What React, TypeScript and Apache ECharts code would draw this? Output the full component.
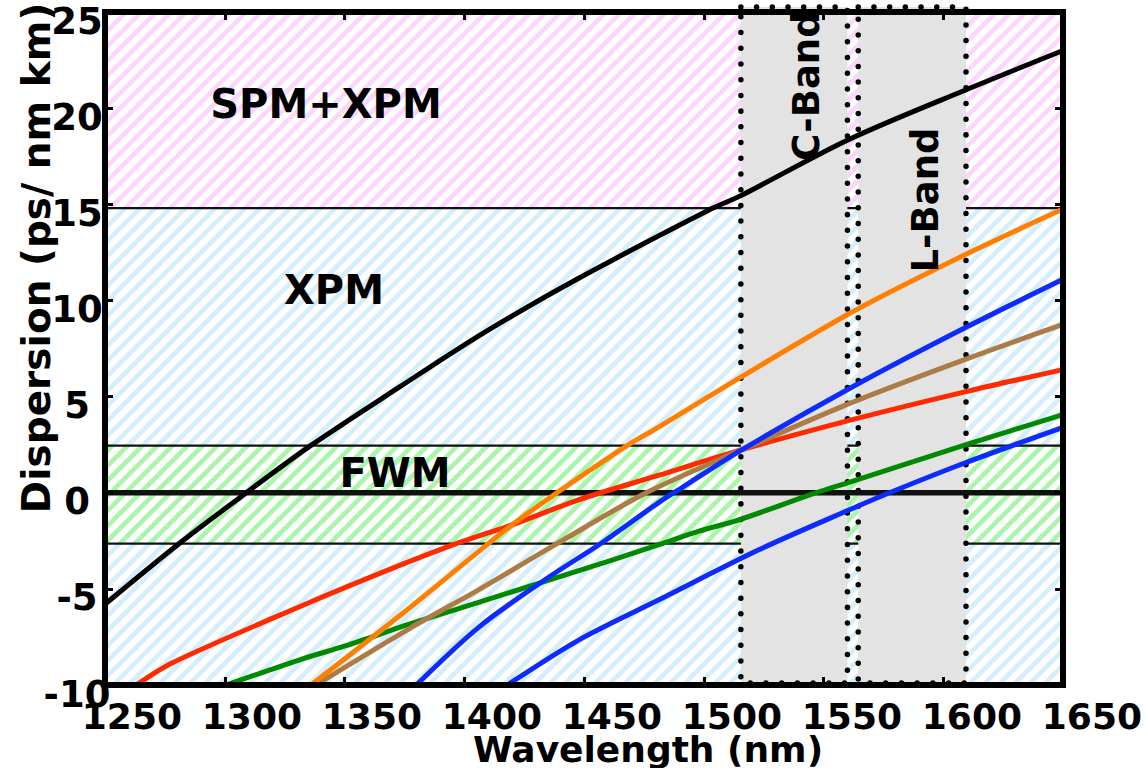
import React, { useEffect, useRef } from "react";
import * as echarts from "echarts";

// ---------- data ----------
const xTicks = [1250, 1300, 1350, 1400, 1450, 1500, 1550, 1600, 1650];
const yTicks = [-10, -5, 0, 5, 10, 15, 20, 25];

// regime boundaries (ps/nm km)
const spmLow = 14.8;
const fwmHigh = 2.45;
const fwmLow = -2.65;

// telecom bands (nm)
const cBand = [1515.5, 1560];
const lBand = [1564.5, 1609.5];

const blackCurve = [
  [1250, -5.8], [1281, -2.64], [1309, 0], [1336, 2.46], [1373, 5.5], [1406.6, 8.2],
  [1447, 11.1], [1503, 14.75], [1515.5, 15.45], [1560.6, 18.37], [1609.8, 20.97], [1650, 23.0],
];
const redCurve = [
  [1263, -10], [1278, -8.85], [1331, -5.94], [1368.6, -4.0], [1397.8, -2.6], [1420, -1.67],
  [1448, -0.36], [1481, 0.9], [1516, 2.24], [1562, 3.8], [1609.5, 5.26], [1650, 6.4],
];
const orangeCurve = [
  [1336, -10], [1375, -6.2], [1406.6, -3.0], [1420, -1.67], [1438.7, 0], [1468, 2.45],
  [1481.7, 3.45], [1516, 6.05], [1562, 9.4], [1609.5, 12.4], [1650, 14.75],
];
const brownCurve = [
  [1338, -10], [1378, -7], [1406, -5.05], [1438.7, -2.65], [1476, 0], [1516, 2.24],
  [1562, 4.7], [1609.5, 6.95], [1650, 8.75],
];
const greenCurve = [
  [1300.5, -10], [1331, -8.7], [1350.6, -7.95], [1378, -6.8], [1406, -5.7], [1434, -4.6],
  [1461.7, -3.5], [1481.3, -2.7], [1498, -2.0], [1515, -1.4], [1547, 0], [1561, 0.55],
  [1609.5, 2.5], [1650, 4.06],
];
const blueCurve1 = [
  [1380, -10], [1406, -7], [1434, -4.5], [1457.5, -2.6], [1481.3, -0.5], [1491, 0.27],
  [1516, 2.24], [1562, 5.5], [1609.5, 8.6], [1650, 11.1],
];
const blueCurve2 = [
  [1418, -10], [1448, -7.65], [1481.3, -5.57], [1523, -2.97], [1560.6, -0.9],
  [1578.6, 0.05], [1609.5, 1.57], [1650, 3.4],
];

// ---------- styling ----------
const FONT = "DejaVu Sans";
const X_MIN = 1250, X_MAX = 1650, Y_MIN = -10, Y_MAX = 25;
const PINK = "#fcd6fc", BLUE = "#d4eefc", GREEN = "#a9f5a9";
// label-only axis (the source's tick labels sit a little right of their ticks)
const LABEL_AXIS_MIN = 1238.8;
const LABEL_AXIS_MAX = 1669.5;

type P = [number, number];
function clipHalf(poly: P[], f: (p: P) => number): P[] {
  const out: P[] = [];
  for (let i = 0; i < poly.length; i++) {
    const a = poly[i], b = poly[(i + 1) % poly.length];
    const fa = f(a), fb = f(b);
    if (fa >= 0) out.push(a);
    if ((fa >= 0) !== (fb >= 0)) {
      const t = fa / (fa - fb);
      out.push([a[0] + t * (b[0] - a[0]), a[1] + t * (b[1] - a[1])]);
    }
  }
  return out;
}

export default function App() {
  const ref = useRef<HTMLDivElement>(null);
  useEffect(() => {
    if (!ref.current) return;
    const chart = echarts.init(ref.current, undefined, { renderer: "svg" });

    const bandData = [
      [X_MIN, X_MAX, spmLow, Y_MAX, 0],
      [X_MIN, X_MAX, fwmHigh, spmLow, 1],
      [X_MIN, X_MAX, fwmLow, fwmHigh, 2],
      [X_MIN, X_MAX, Y_MIN, fwmLow, 1],
    ];
    const bandColors = [PINK, BLUE, GREEN];
    const PERIOD = 15;
    const W = 6.6;

    const hatchSeries: any = {
      type: "custom",
      z: 1,
      silent: true,
      clip: true,
      data: bandData,
      encode: { x: [0, 1], y: [2, 3] },
      renderItem: (params: any, api: any) => {
        const tl = api.coord([api.value(0), api.value(3)]);
        const br = api.coord([api.value(1), api.value(2)]);
        const L = tl[0], T = tl[1], R = br[0], B = br[1];
        const color = bandColors[api.value(4)];
        const rect: P[] = [[L, T], [R, T], [R, B], [L, B]];
        const children: any[] = [];
        const c0 = Math.floor((L + T) / PERIOD) * PERIOD - PERIOD;
        for (let c = c0; c <= R + B + PERIOD; c += PERIOD) {
          let poly = clipHalf(rect, (p) => p[0] + p[1] - c);
          poly = clipHalf(poly, (p) => c + W - (p[0] + p[1]));
          if (poly.length >= 3) {
            children.push({ type: "polygon", shape: { points: poly }, style: { fill: color } });
          }
        }
        return { type: "group", children };
      },
    };

    const grayBands = [
      [cBand[0], cBand[1]],
      [lBand[0], lBand[1]],
    ];
    const graySeries: any = {
      type: "custom",
      z: 3,
      silent: true,
      clip: false,
      data: grayBands,
      encode: { x: [0, 1] },
      renderItem: (params: any, api: any) => {
        const tl = api.coord([api.value(0), Y_MAX]);
        const br = api.coord([api.value(1), Y_MIN]);
        const top = tl[1] - 5;
        return {
          type: "rect",
          shape: { x: tl[0], y: top, width: br[0] - tl[0], height: br[1] - top - 2 },
          style: {
            fill: "#e3e3e3",
            stroke: "#000",
            lineWidth: 5.5,
            lineDash: [0.01, 15.7],
            lineCap: "round",
          },
        };
      },
    };

    const hline = (y: number, width: number, z: number) => ({
      type: "line",
      z,
      silent: true,
      symbol: "none",
      data: [[X_MIN, y], [X_MAX, y]],
      lineStyle: { color: "#111", width },
    });

    const curve = (data: number[][], color: string) => ({
      type: "line",
      z: 5,
      silent: true,
      symbol: "none",
      smooth: 0.3,
      data,
      lineStyle: { color, width: 5, cap: "butt", join: "round" },
    });

    const axisCommon = {
      z: 20,
      axisLine: { show: true, onZero: false, lineStyle: { color: "#000", width: 6, cap: "square" } },
      axisTick: { show: true, inside: true, length: 8, lineStyle: { color: "#000", width: 3 } },
      splitLine: { show: false },
    };

    const hiddenAxis = {
      axisLine: { show: false },
      axisTick: { show: false },
      splitLine: { show: false },
    };

    chart.setOption({
      animation: false,
      grid: [
        { left: 105, right: 82, top: 12, bottom: 83, containLabel: false },
        { left: 105, right: 0, top: 12, bottom: 83, containLabel: false },
      ],
      xAxis: [
        {
          type: "value",
          min: X_MIN,
          max: X_MAX,
          interval: 50,
          position: "bottom",
          ...axisCommon,
          axisLabel: { show: false },
        },
        {
          type: "value",
          min: X_MIN,
          max: X_MAX,
          interval: 50,
          position: "top",
          ...axisCommon,
          axisLabel: { show: false },
        },
        {
          type: "value",
          gridIndex: 1,
          min: LABEL_AXIS_MIN,
          max: LABEL_AXIS_MAX,
          position: "bottom",
          ...hiddenAxis,
          axisLabel: {
            show: true,
            customValues: xTicks,
            color: "#000",
            fontFamily: FONT,
            fontWeight: "bold",
            fontSize: 36,
            margin: 18,
            verticalAlign: "top",
            lineHeight: 26,
            formatter: (v: number) => String(v),
          },
        },
      ],
      yAxis: [
        {
          type: "value",
          min: Y_MIN,
          max: Y_MAX,
          interval: 5,
          position: "left",
          ...axisCommon,
          axisLabel: {
            show: true,
            color: "#000",
            fontFamily: FONT,
            fontWeight: "bold",
            fontSize: 37,
            margin: 28,
            align: "center",
            verticalAlign: "top",
            lineHeight: 18,
            formatter: (v: number) => (yTicks.includes(v) ? String(v) : ""),
          },
        },
        {
          type: "value",
          min: Y_MIN,
          max: Y_MAX,
          interval: 5,
          position: "right",
          ...axisCommon,
          axisLabel: { show: false },
        },
        {
          type: "value",
          gridIndex: 1,
          min: Y_MIN,
          max: Y_MAX,
          interval: 5,
          ...hiddenAxis,
          axisLabel: { show: false },
        },
      ],
      series: [
        hatchSeries,
        hline(spmLow, 2.2, 2),
        hline(fwmHigh, 2.2, 2),
        hline(fwmLow, 2.2, 2),
        graySeries,
        hline(0, 5.5, 4),
        curve(blackCurve, "#000000"),
        curve(greenCurve, "#008a00"),
        curve(blueCurve2, "#0d2bff"),
        curve(redCurve, "#ff2a00"),
        curve(brownCurve, "#ad7b46"),
        curve(blueCurve1, "#0d2bff"),
        curve(orangeCurve, "#ff8000"),
      ],
      graphic: [
        { type: "text", z: 100, x: 326, y: 104, style: { text: "SPM+XPM", font: `bold 40px "${FONT}"`, fill: "#000", textAlign: "center", textVerticalAlign: "middle" } },
        { type: "text", z: 100, x: 334, y: 290, style: { text: "XPM", font: `bold 40px "${FONT}"`, fill: "#000", textAlign: "center", textVerticalAlign: "middle" } },
        { type: "text", z: 100, x: 395, y: 473, style: { text: "FWM", font: `bold 40px "${FONT}"`, fill: "#000", textAlign: "center", textVerticalAlign: "middle" } },
        { type: "text", z: 100, x: 806, y: 86, rotation: Math.PI / 2, style: { text: "C-Band", font: `bold 37px "${FONT}"`, fill: "#000", textAlign: "center", textVerticalAlign: "middle" } },
        { type: "text", z: 100, x: 925, y: 200, rotation: Math.PI / 2, style: { text: "L-Band", font: `bold 37px "${FONT}"`, fill: "#000", textAlign: "center", textVerticalAlign: "middle" } },
        { type: "text", z: 100, x: 648, y: 749, style: { text: "Wavelength (nm)", font: `bold 36px "${FONT}"`, fill: "#000", textAlign: "center", textVerticalAlign: "middle" } },
        { type: "text", z: 100, x: 36, y: 258, rotation: Math.PI / 2, style: { text: "Dispersion (ps/ nm km)", font: `bold 39px "${FONT}"`, fill: "#000", textAlign: "center", textVerticalAlign: "middle" } },
      ],
    });
    return () => chart.dispose();
  }, []);
  return (
    <div
      ref={ref}
      style={{ position: "fixed", left: 0, top: 0, width: 1145, height: 768, background: "#fff" }}
    />
  );
}
